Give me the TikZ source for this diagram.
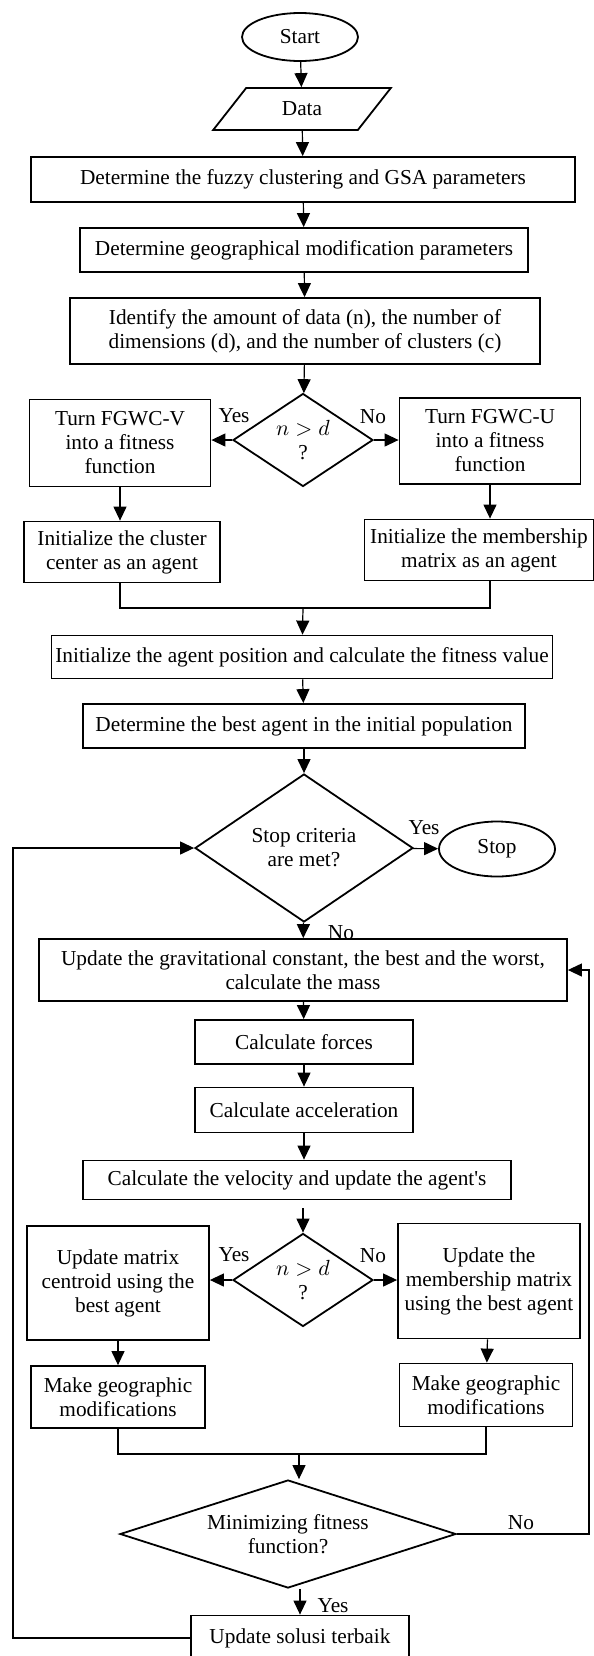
\documentclass[tikz,border=0pt]{standalone}
\usepackage{fontspec}
\setmainfont{Liberation Serif}
\usetikzlibrary{shapes.geometric,arrows.meta}

\begin{document}
\begin{tikzpicture}[x=0.5pt,y=-0.5pt,
  font=\fontsize{10.65}{12}\selectfont,
  >={Triangle[length=7pt,width=6.5pt]},
  proc/.style={draw,fill=white,line width=0.9pt,rectangle,align=center,inner sep=0pt},
  decision/.style={draw,line width=0.9pt,diamond,align=center,inner sep=0pt,aspect=1.5},
  term/.style={draw,line width=0.9pt,ellipse,inner sep=0pt},
  io/.style={draw,line width=0.9pt,trapezium,trapezium left angle=50,
    trapezium right angle=130,trapezium stretches=true,inner sep=0pt},
  flow/.style={line width=0.6pt}]
  \useasboundingbox (0,0) rectangle (594,1656);
  % start and set-up
  \node[term,minimum width=58pt,minimum height=24pt] (start) at (300,37) {Start};
  \node[io,minimum width=89pt,minimum height=21pt] (data) at (302,109) {Data};
  \node[proc,minimum width=272pt,minimum height=22.5pt] (fuzzy) at (303,179.5)
    {Determine the fuzzy clustering and GSA parameters};
  \node[proc,minimum width=224pt,minimum height=22pt] (geopar) at (304,250)
    {Determine geographical modification parameters};
  \node[proc,minimum width=235pt,minimum height=33pt] (ident) at (305,331)
    {Identify the amount of data (n), the number of\\dimensions (d), and the number of clusters (c)};
  \node[decision,minimum width=70pt,minimum height=46.5pt] (nd1) at (303,440) {$n>d$\\?};
  \node (yes1) at (234,416) {Yes};
  \node (no1) at (373,417) {No};
  \node[proc,minimum width=90.5pt,minimum height=43.5pt] (fgwcv) at (120,443)
    {Turn FGWC-V\\into a fitness\\function};
  \node[proc,minimum width=90.5pt,minimum height=43pt] (fgwcu) at (490,441)
    {Turn FGWC-U\\into a fitness\\function};
  \node[proc,minimum width=98pt,minimum height=30.5pt] (initv) at (122,552)
    {Initialize the cluster\\center as an agent};
  \node[proc,minimum width=114.5pt,minimum height=30.5pt] (initu) at (479,550)
    {Initialize the membership\\matrix as an agent};
  \coordinate (join1) at (303,608);
  \node[proc,minimum width=250.5pt,minimum height=21.5pt] (agentpos) at (302,657)
    {Initialize the agent position and calculate the fitness value};
  \node[proc,minimum width=221pt,minimum height=22pt] (bestagent) at (304,726)
    {Determine the best agent in the initial population};
  % main loop
  \node[decision,minimum width=109pt,minimum height=74pt] (stopcrit) at (304,848)
    {Stop criteria\\are met?};
  \node[term,minimum width=58pt,minimum height=27.5pt] (stop) at (497,849) {Stop};
  \node (yes2) at (424,828) {Yes};
  \node (no2) at (341,933) {No};
  \node[proc,minimum width=264pt,minimum height=31pt] (gravity) at (303,970)
    {Update the gravitational constant, the best and the worst,\\calculate the mass};
  \node[proc,minimum width=109pt,minimum height=22pt] (forces) at (304,1042) {Calculate forces};
  \node[proc,minimum width=109pt,minimum height=22.5pt] (accel) at (304,1110) {Calculate acceleration};
  \node[proc,minimum width=214pt,minimum height=19.5pt] (velocity) at (297,1180)
    {Calculate the velocity and update the agent\textquotesingle s};
  \node[decision,minimum width=70pt,minimum height=46.5pt] (nd2) at (303,1280) {$n>d$\\?};
  \node (yes3) at (234,1255) {Yes};
  \node (no3) at (373,1256) {No};
  \node[proc,minimum width=91pt,minimum height=57pt] (updv) at (118,1283)
    {Update matrix\\centroid using the\\best agent};
  \node[proc,minimum width=91pt,minimum height=57.5pt] (updu) at (489,1281)
    {Update the\\membership matrix\\using the best agent};
  \node[proc,minimum width=87pt,minimum height=31pt] (geov) at (118,1397)
    {Make geographic\\modifications};
  \node[proc,minimum width=86.5pt,minimum height=31.5pt] (geou) at (486,1395)
    {Make geographic\\modifications};
  \coordinate (join2) at (299,1454);
  \node[decision,aspect=3,minimum width=168pt,minimum height=54pt] (minfit) at (288,1534)
    {Minimizing fitness\\function?};
  \node (no4) at (521,1523) {No};
  \node (yes4) at (333,1606) {Yes};
  \node[proc,minimum width=109pt,minimum height=22.5pt] (solusi) at (300,1638)
    {Update solusi terbaik};
  \coordinate (rloop) at (589,0);
  \coordinate (lloop) at (13,0);

  % connectors
  \draw[flow,->] (start) -- (data);
  \draw[flow,->] (data) -- (fuzzy);
  \draw[flow,->] (fuzzy) -- (geopar);
  \draw[flow,->] (geopar) -- (ident);
  \draw[flow,->] (ident) -- (nd1);
  \draw[flow,->] (nd1.west) -- (nd1.west -| fgwcv.east);
  \draw[flow,->] (nd1.east) -- (nd1.east -| fgwcu.west);
  \draw[flow,->] (fgwcv.south) -- (fgwcv.south |- initv.north);
  \draw[flow,->] (fgwcu.south) -- (fgwcu.south |- initu.north);
  \draw[flow] (fgwcv.south |- initv.south) |- (join1) -| (fgwcu.south |- initu.south);
  \draw[flow,->] (join1) -- (agentpos);
  \draw[flow,->] (agentpos) -- (bestagent);
  \draw[flow,->] (bestagent) -- (stopcrit);
  \draw[flow,->] (stopcrit) -- (stop);
  \draw[flow,->] (stopcrit) -- (gravity);
  \draw[flow,->] (gravity) -- (forces);
  \draw[flow,->] (forces) -- (accel);
  \draw[flow,->] (accel) -- (velocity.north -| accel.south);
  \draw[flow,->,shorten <=4pt] (velocity.south -| nd2.north) -- (nd2);
  \draw[flow,->] (nd2.west) -- (nd2.west -| updv.east);
  \draw[flow,->] (nd2.east) -- (nd2.east -| updu.west);
  \draw[flow,->] (updv) -- (geov);
  \draw[flow,->] (updu) -- (geou);
  \draw[flow] (geov.south) |- (join2) -| (geou.south);
  \draw[flow,->] (join2) -- (join2 |- minfit.north);
  \draw[flow,->] (minfit.east) -- (minfit.east -| rloop) |- (gravity.east);
  \draw[flow,->] (solusi.north |- minfit.south) -- (solusi.north);
  \draw[flow,->] (solusi.west) -- (solusi.west -| lloop) |- (stopcrit.west);
\end{tikzpicture}
\end{document}
